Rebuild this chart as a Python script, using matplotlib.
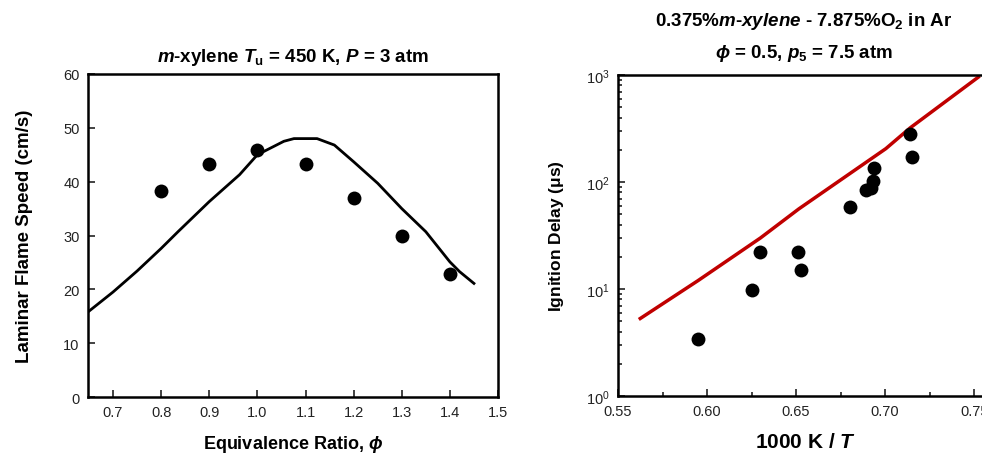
import matplotlib
matplotlib.use("Agg")
import matplotlib.pyplot as plt
from matplotlib.ticker import FixedLocator, FixedFormatter, LogLocator, NullFormatter, MultipleLocator

plt.rcParams['font.family'] = ['Liberation Sans', 'DejaVu Sans']
plt.rcParams['mathtext.fontset'] = 'custom'
plt.rcParams['mathtext.rm'] = 'Liberation Sans:bold'
plt.rcParams['mathtext.it'] = 'Liberation Sans:bold:italic'
plt.rcParams['mathtext.bf'] = 'Liberation Sans:bold'
plt.rcParams['mathtext.fallback'] = 'stixsans'

# Left panel: laminar flame speed
phi_model = [0.648, 0.70, 0.75, 0.80, 0.835, 0.90, 0.963, 1.00, 1.055, 1.076, 1.124, 1.16, 1.20, 1.25, 1.30, 1.35, 1.40, 1.42, 1.45]
sl_model = [15.8, 19.5, 23.4, 27.6, 30.7, 36.3, 41.3, 45.0, 47.5, 48.0, 48.0, 46.8, 43.7, 39.7, 35.0, 30.7, 25.1, 23.3, 21.1]
phi_exp = [0.8, 0.9, 1.0, 1.1, 1.2, 1.3, 1.4]
sl_exp = [38.2, 43.3, 45.8, 43.3, 37.0, 30.0, 22.8]

# Right panel: ignition delay
invT_model = [0.5625, 0.595, 0.630, 0.6515, 0.7004, 0.714, 0.7523]
tau_model = [5.3, 12.0, 30.0, 56.0, 205.0, 320.0, 955.0]
invT_exp = [0.595, 0.625, 0.630, 0.651, 0.653, 0.680, 0.689, 0.692, 0.693, 0.694, 0.714, 0.715]
tau_exp = [3.4, 9.8, 22.0, 22.0, 15.0, 58.0, 85.0, 88.0, 102.0, 135.0, 280.0, 170.0]

fig = plt.figure(figsize=(9.82, 4.56), dpi=100)

ax1 = fig.add_axes([88/982, 1-398/456, 410/982, 323/456])
ax1.plot(phi_model, sl_model, color='black', lw=2)
ax1.plot(phi_exp, sl_exp, 'o', color='black', ms=10, mew=0)
ax1.set_xlim(0.648, 1.5)
ax1.set_ylim(0, 60)
ax1.xaxis.set_major_locator(FixedLocator([0.7, 0.8, 0.9, 1.0, 1.1, 1.2, 1.3, 1.4, 1.5]))
ax1.xaxis.set_major_formatter(FixedFormatter(['0.7', '0.8', '0.9', '1.0', '1.1', '1.2', '1.3', '1.4', '1.5']))
ax1.yaxis.set_major_locator(MultipleLocator(10))
ax1.tick_params(direction='in', length=5, width=1.2, labelsize=10.5, pad=6, colors='#222222')
for s in ax1.spines.values():
    s.set_linewidth(1.8)
ax1.set_title(r'$m$-xylene $T_\mathrm{u}$ = 450 K, $P$ = 3 atm', fontsize=13.5, fontweight='bold', pad=9)
ax1.set_xlabel(r'Equivalence Ratio, $\phi$', fontsize=13, fontweight='bold', labelpad=10)
ax1.set_ylabel('Laminar Flame Speed (cm/s)', fontsize=13.5, fontweight='bold', labelpad=22)

ax2 = fig.add_axes([618/982, 1-397/456, 374/982, 321/456])
ax2.plot(invT_model, tau_model, color='#c00000', lw=2.5)
ax2.plot(invT_exp, tau_exp, 'o', color='black', ms=10, mew=0)
ax2.set_yscale('log')
ax2.set_xlim(0.55, 0.76)
ax2.set_ylim(1, 1000)
ax2.xaxis.set_major_locator(FixedLocator([0.55, 0.60, 0.65, 0.70, 0.75]))
ax2.xaxis.set_major_formatter(FixedFormatter(['0.55', '0.60', '0.65', '0.70', '0.75']))
ax2.xaxis.set_minor_locator(FixedLocator([0.575, 0.625, 0.675, 0.725]))
ax2.yaxis.set_major_locator(FixedLocator([1, 10, 100, 1000]))
ax2.yaxis.set_major_formatter(FixedFormatter([r'$\mathregular{10^{0}}$', r'$\mathregular{10^{1}}$', r'$\mathregular{10^{2}}$', r'$\mathregular{10^{3}}$']))
ax2.yaxis.set_minor_locator(LogLocator(base=10, subs=range(2, 10)))
ax2.yaxis.set_minor_formatter(NullFormatter())
ax2.tick_params(which='both', direction='in', width=1.2, labelsize=10.5, pad=6, colors='#222222')
ax2.tick_params(which='major', length=5)
ax2.tick_params(which='minor', length=3)
for s in ax2.spines.values():
    s.set_linewidth(1.8)
cx = (658 + 950) / 2 / 982
fig.text(cx, 1-22/456, r'0.375%$m$-$xylene$ - 7.875%O$_\mathrm{2}$ in Ar', ha='center', va='center', fontsize=13.5, fontweight='bold')
fig.text(cx, 1-53/456, r'$\phi$ = 0.5, $p_\mathrm{5}$ = 7.5 atm', ha='center', va='center', fontsize=13.5, fontweight='bold')
ax2.set_xlabel(r'1000 K / $T$', fontsize=15, fontweight='bold', labelpad=10)
ax2.set_ylabel(r'Ignition Delay ($\mathregular{\mu}$s)', fontsize=12.5, fontweight='bold', labelpad=14)

fig.savefig('out.png', dpi=100)
